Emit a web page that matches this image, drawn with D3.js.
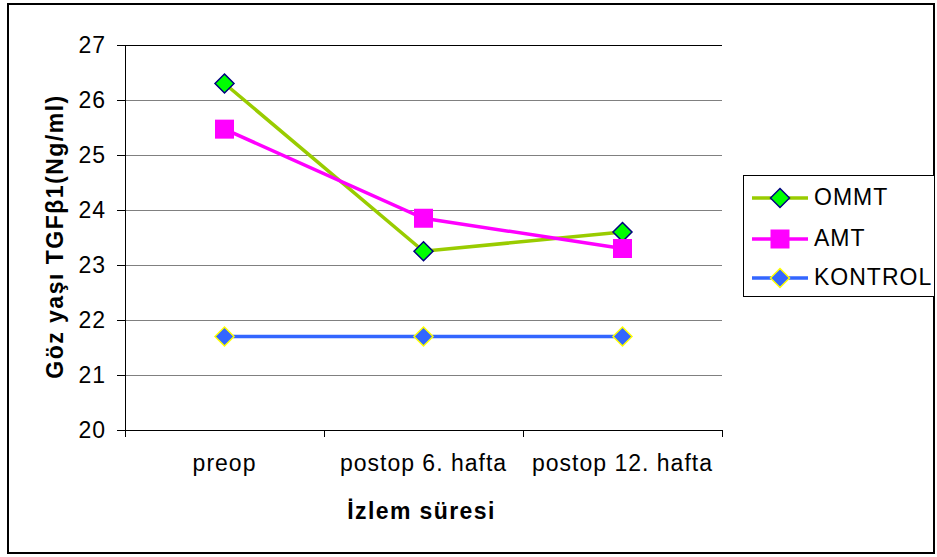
<!DOCTYPE html>
<html><head><meta charset="utf-8">
<script src="https://cdn.jsdelivr.net/npm/d3@7"></script>
<style>body{margin:0;background:#fff}svg{display:block}text{font-family:Arial,"Liberation Sans",sans-serif}</style>
</head><body>
<svg id="c" width="937" height="557"></svg>
<script>
const categories = ["preop", "postop 6. hafta", "postop 12. hafta"];
const ommt = [26.3, 23.25, 23.6];
const amt = [25.47, 23.85, 23.3];
const kontrol = [21.7, 21.7, 21.7];
const yTicks = [20, 21, 22, 23, 24, 25, 26, 27];
const seriesNames = ["OMMT", "AMT", "KONTROL"];

const FS = 23;
const svg = d3.select("#c");
svg.append("rect").attr("x", 8).attr("y", 4).attr("width", 926).attr("height", 549)
  .attr("fill", "#fff").attr("stroke", "#000").attr("stroke-width", 2);

const L = 125, R = 722, T = 45, B = 430;
const x = d3.scaleBand().domain(categories).range([L, R]);
const y = d3.scaleLinear().domain([20, 27]).range([B, T]);

// gridlines
svg.append("g").selectAll("line").data(yTicks.slice(1)).join("line")
  .attr("x1", L).attr("x2", R).attr("y1", d => y(d)).attr("y2", d => y(d))
  .attr("stroke", d => d === 27 ? "#000" : "#808080").attr("stroke-width", 1).attr("shape-rendering", "crispEdges");

// y axis
const ya = svg.append("g").attr("transform", `translate(${L},0)`)
  .call(d3.axisLeft(y).tickValues(yTicks).tickSize(8).tickPadding(11).tickFormat(d3.format("d")));
ya.select(".domain").attr("stroke", "#000");
ya.selectAll("line").attr("stroke", "#000");
ya.selectAll("text").attr("font-size", FS).attr("fill", "#000").attr("letter-spacing", 1)
  .style("font-family", "Arial, 'Liberation Sans', sans-serif");

// x axis
const xa = svg.append("g").attr("transform", `translate(0,${B})`)
  .call(d3.axisBottom(x).tickSize(0).tickPadding(25));
xa.select(".domain").attr("stroke", "#000");
xa.selectAll("text").attr("font-size", FS).attr("fill", "#000").attr("letter-spacing", 1)
  .style("font-family", "Arial, 'Liberation Sans', sans-serif");
const bounds = [L].concat(categories.map(c => x(c) + x.bandwidth()));
svg.append("g").selectAll("line").data(bounds).join("line")
  .attr("x1", d => d).attr("x2", d => d).attr("y1", B).attr("y2", B + 7)
  .attr("stroke", "#000").attr("shape-rendering", "crispEdges");

// titles
svg.append("text").attr("transform", `translate(63,${(T + B) / 2 - 1}) rotate(-90)`)
  .attr("text-anchor", "middle").attr("font-size", FS).attr("font-weight", "bold")
  .attr("letter-spacing", 1.5).text("Göz yaşı TGFβ1(Ng/ml)");
svg.append("text").attr("x", (L + R) / 2 - 2).attr("y", 519).attr("text-anchor", "middle")
  .attr("font-size", FS).attr("font-weight", "bold").attr("letter-spacing", 1.4).text("İzlem süresi");

const cx = c => x(c) + x.bandwidth() / 2;
const styles = [
  {data: ommt, line: "#99CC00", marker: "diamond", fill: "#00FF00", stroke: "#000080"},
  {data: amt, line: "#FF00FF", marker: "square", fill: "#FF00FF", stroke: "#FF00FF"},
  {data: kontrol, line: "#3366FF", marker: "diamond", fill: "#3366FF", stroke: "#FFFF00"}
];
const lineGen = d3.line().x((d, i) => cx(categories[i])).y(d => y(d));
function marker(g, s, px, py) {
  if (s.marker === "diamond") {
    g.append("path").attr("d", `M${px},${py - 9.5}L${px + 9.5},${py}L${px},${py + 9.5}L${px - 9.5},${py}Z`)
      .attr("fill", s.fill).attr("stroke", s.stroke).attr("stroke-width", 1.5);
  } else {
    g.append("rect").attr("x", px - 9.5).attr("y", py - 9.5).attr("width", 19).attr("height", 19).attr("fill", s.fill);
  }
}
styles.forEach(s => {
  svg.append("path").datum(s.data).attr("d", lineGen).attr("fill", "none")
    .attr("stroke", s.line).attr("stroke-width", 3.5);
});
styles.forEach(s => {
  const g = svg.append("g");
  s.data.forEach((v, i) => marker(g, s, cx(categories[i]), y(v)));
});

// legend
const lg = svg.append("g");
lg.append("rect").attr("x", 743.5).attr("y", 175.5).attr("width", 191).attr("height", 121)
  .attr("fill", "#fff").attr("stroke", "#000").attr("stroke-width", 1);
const ly = [198, 239, 278];
styles.forEach((s, i) => {
  lg.append("line").attr("x1", 752).attr("x2", 808).attr("y1", ly[i]).attr("y2", ly[i])
    .attr("stroke", s.line).attr("stroke-width", 3.5);
  marker(lg, s, 780, ly[i]);
  lg.append("text").attr("x", 814).attr("y", ly[i] + 7).attr("font-size", FS).attr("letter-spacing", 1)
    .text(seriesNames[i]);
});
</script>
</body></html>
